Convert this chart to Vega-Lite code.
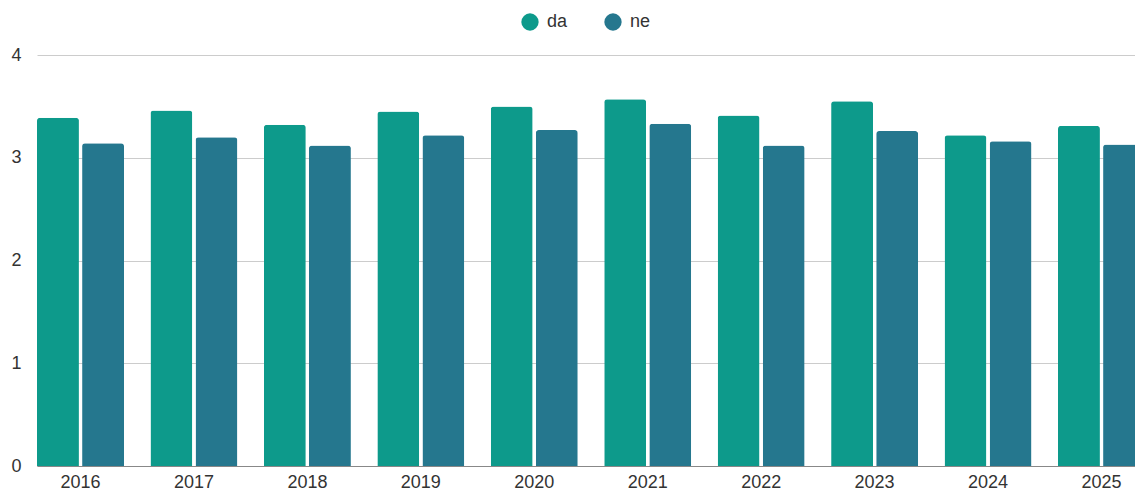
{
  "$schema": "https://vega.github.io/schema/vega-lite/v6.json",
  "autosize": "none",
  "width": 1108,
  "height": 411,
  "padding": {"left": 37, "top": 55, "right": 0, "bottom": 24},
  "background": "white",
  "config": {
    "view": {"stroke": null},
    "font": "Liberation Sans"
  },
  "data": {
    "values": [
      {"year": "2016", "group": "da", "value": 3.39},
      {"year": "2016", "group": "ne", "value": 3.14},
      {"year": "2017", "group": "da", "value": 3.46},
      {"year": "2017", "group": "ne", "value": 3.20},
      {"year": "2018", "group": "da", "value": 3.32},
      {"year": "2018", "group": "ne", "value": 3.12},
      {"year": "2019", "group": "da", "value": 3.45},
      {"year": "2019", "group": "ne", "value": 3.22},
      {"year": "2020", "group": "da", "value": 3.50},
      {"year": "2020", "group": "ne", "value": 3.27},
      {"year": "2021", "group": "da", "value": 3.57},
      {"year": "2021", "group": "ne", "value": 3.33},
      {"year": "2022", "group": "da", "value": 3.41},
      {"year": "2022", "group": "ne", "value": 3.12},
      {"year": "2023", "group": "da", "value": 3.55},
      {"year": "2023", "group": "ne", "value": 3.26},
      {"year": "2024", "group": "da", "value": 3.22},
      {"year": "2024", "group": "ne", "value": 3.16},
      {"year": "2025", "group": "da", "value": 3.31},
      {"year": "2025", "group": "ne", "value": 3.13}
    ]
  },
  "mark": {"type": "bar", "cornerRadiusTopLeft": 3, "cornerRadiusTopRight": 3, "clip": false},
  "encoding": {
    "x": {
      "field": "year",
      "type": "nominal",
      "scale": {"paddingInner": 0.233, "paddingOuter": 0},
      "axis": {
        "title": null,
        "labelAngle": 0,
        "labelFontSize": 18,
        "labelColor": "#333333",
        "labelPadding": 7,
        "ticks": false,
        "domainColor": "#888888",
        "domainWidth": 1,
        "grid": false
      }
    },
    "xOffset": {"field": "group", "type": "nominal", "scale": {"paddingInner": 0.07}},
    "y": {
      "field": "value",
      "type": "quantitative",
      "scale": {"domain": [0, 4]},
      "axis": {
        "title": null,
        "values": [0, 1, 2, 3, 4],
        "labelFontSize": 18,
        "labelColor": "#333333",
        "labelPadding": 16,
        "ticks": false,
        "domain": false,
        "gridColor": "#cccccc",
        "gridWidth": 1
      }
    },
    "color": {
      "field": "group",
      "type": "nominal",
      "scale": {"domain": ["da", "ne"], "range": ["#0d9a8b", "#25778e"]},
      "legend": {
        "title": null,
        "orient": "none",
        "direction": "horizontal",
        "legendX": 484,
        "legendY": -42,
        "symbolType": "circle",
        "symbolSize": 300,
        "symbolStrokeWidth": 0,
        "labelFontSize": 18,
        "labelColor": "#333333",
        "labelOffset": 8,
        "columnPadding": 36
      }
    }
  }
}
